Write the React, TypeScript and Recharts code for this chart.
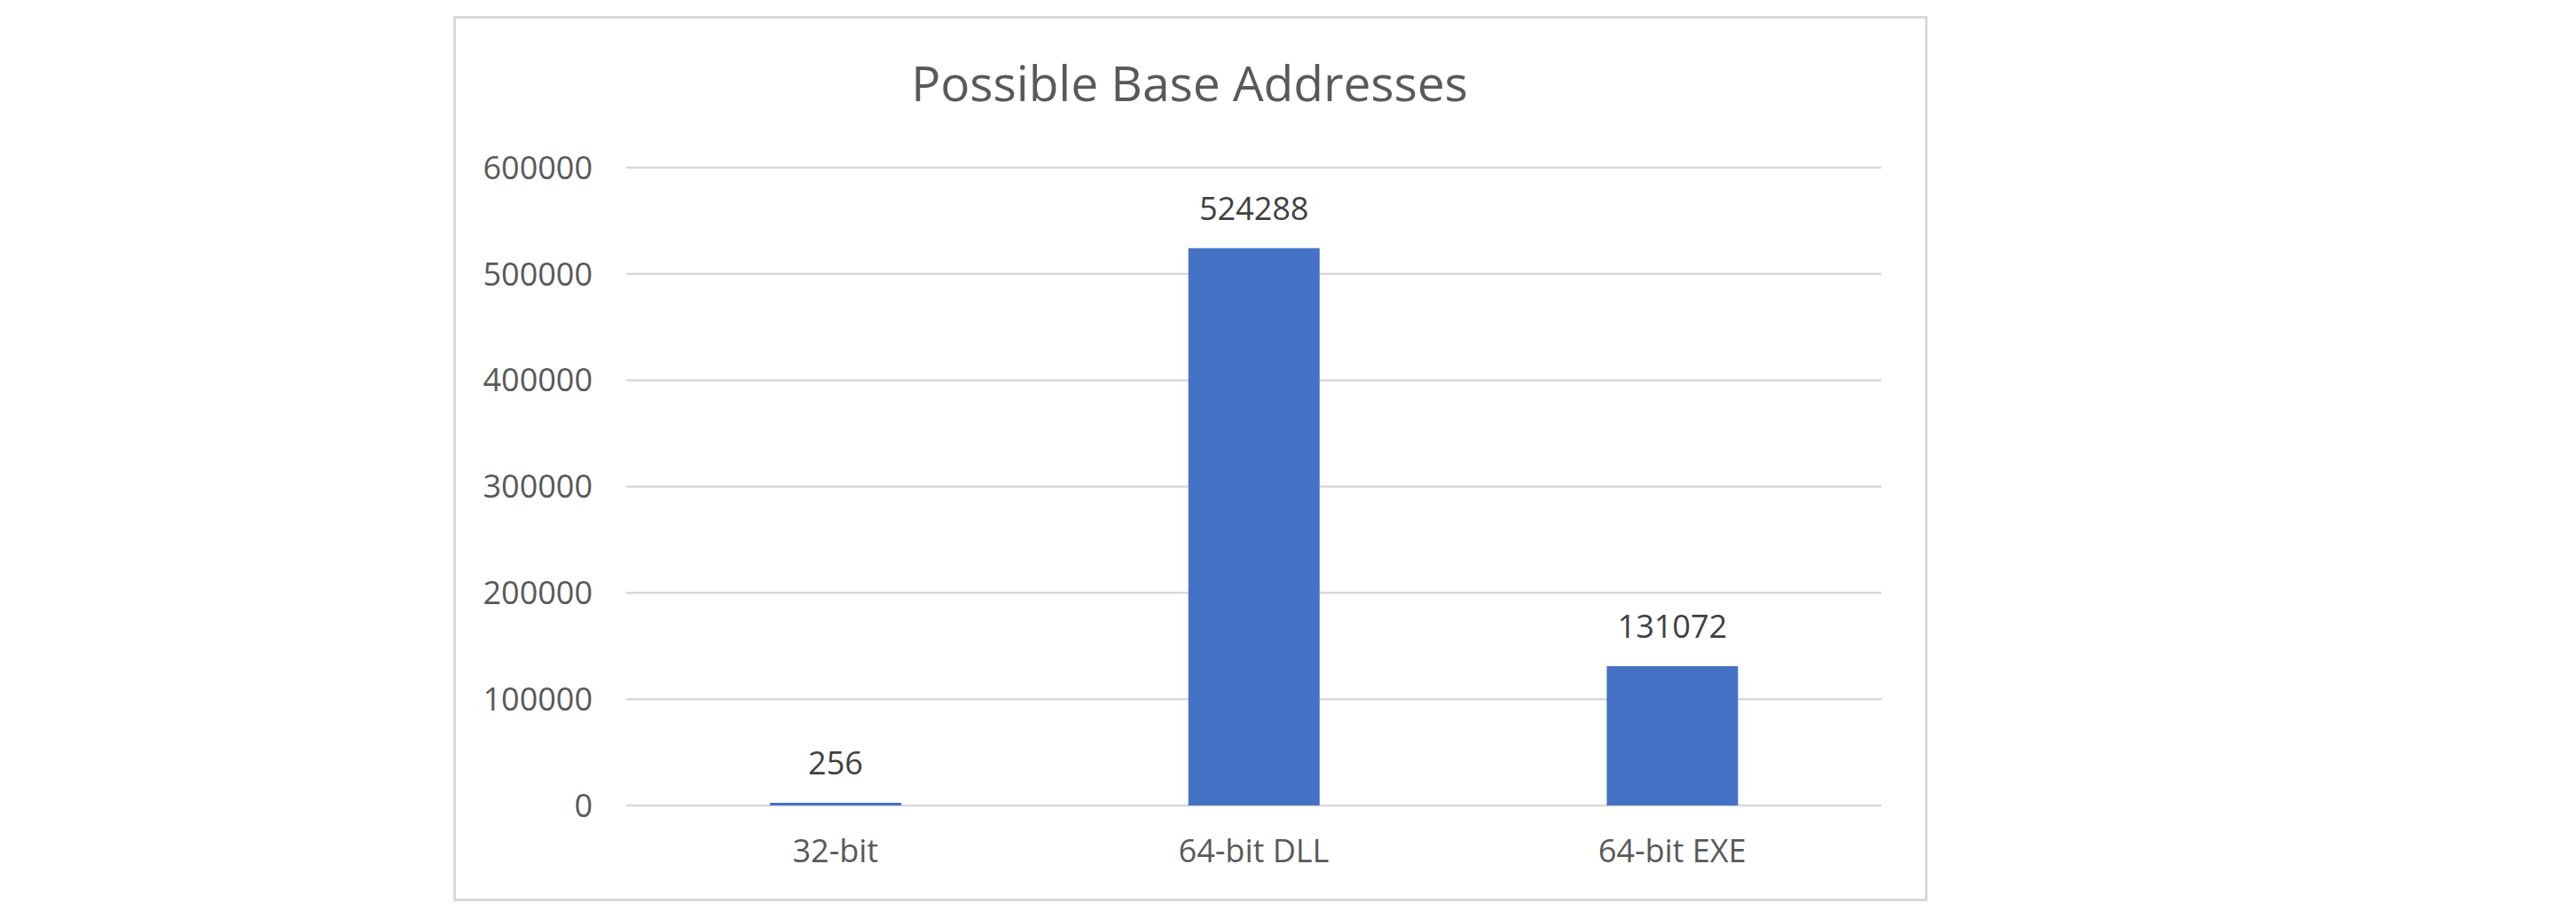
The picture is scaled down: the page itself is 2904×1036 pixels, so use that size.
import React from 'react'
import { BarChart, Bar, XAxis, YAxis, CartesianGrid, LabelList } from 'recharts'

// chart values
const categories = ['32-bit', '64-bit DLL', '64-bit EXE']
const addressCounts = [256, 524288, 131072]
const yTicks = [0, 100000, 200000, 300000, 400000, 500000, 600000]

const chartTitle = 'Possible Base Addresses'

const FONT = '"Open Sans", sans-serif'
const BAR_COLOR = '#4472C4'
const GRID_COLOR = '#d9d9d9'
const TICK_COLOR = '#595959'
const LABEL_COLOR = '#404040'

export default function App() {
  const chartData = categories.map((name, i) => ({
    name,
    value: addressCounts[i]
  }))

  return (
    <div
      style={{
        position: 'absolute',
        left: 0,
        top: 0,
        width: 2904,
        height: 1036,
        background: '#ffffff',
        fontFamily: FONT
      }}
    >
      {/* chart frame */}
      <div
        style={{
          position: 'absolute',
          left: 511,
          top: 18,
          width: 1662,
          height: 998,
          border: `3px solid ${GRID_COLOR}`,
          boxSizing: 'border-box'
        }}
      />

      <svg
        width={2904}
        height={1036}
        style={{ position: 'absolute', left: 0, top: 0 }}
      >
        <text
          x={1341}
          y={114}
          textAnchor="middle"
          fontFamily={FONT}
          fontSize={55}
          fill={TICK_COLOR}
        >
          {chartTitle}
        </text>
      </svg>

      <div style={{ position: 'absolute', left: 0, top: 0 }}>
        <BarChart
          width={2904}
          height={1036}
          data={chartData}
          margin={{ top: 189, right: 783, bottom: 68, left: 546 }}
        >
          <CartesianGrid vertical={false} stroke={GRID_COLOR} strokeWidth={2.5} />
          <XAxis
            dataKey="name"
            axisLine={false}
            tickLine={false}
            height={60}
            tickSize={6}
            tickMargin={32}
            tick={{ fill: TICK_COLOR, fontSize: 36, fontFamily: FONT }}
          />
          <YAxis
            domain={[0, 600000]}
            ticks={yTicks}
            axisLine={false}
            tickLine={false}
            width={160}
            tickSize={6}
            tickMargin={32}
            interval={0}
            tick={{ fill: TICK_COLOR, fontSize: 36, fontFamily: FONT }}
          />
          <Bar
            dataKey="value"
            fill={BAR_COLOR}
            barSize={148}
            minPointSize={3}
            isAnimationActive={false}
          >
            <LabelList
              dataKey="value"
              position="top"
              offset={32}
              fill={LABEL_COLOR}
              fontSize={36}
              fontFamily={FONT}
            />
          </Bar>
        </BarChart>
      </div>
    </div>
  )
}
